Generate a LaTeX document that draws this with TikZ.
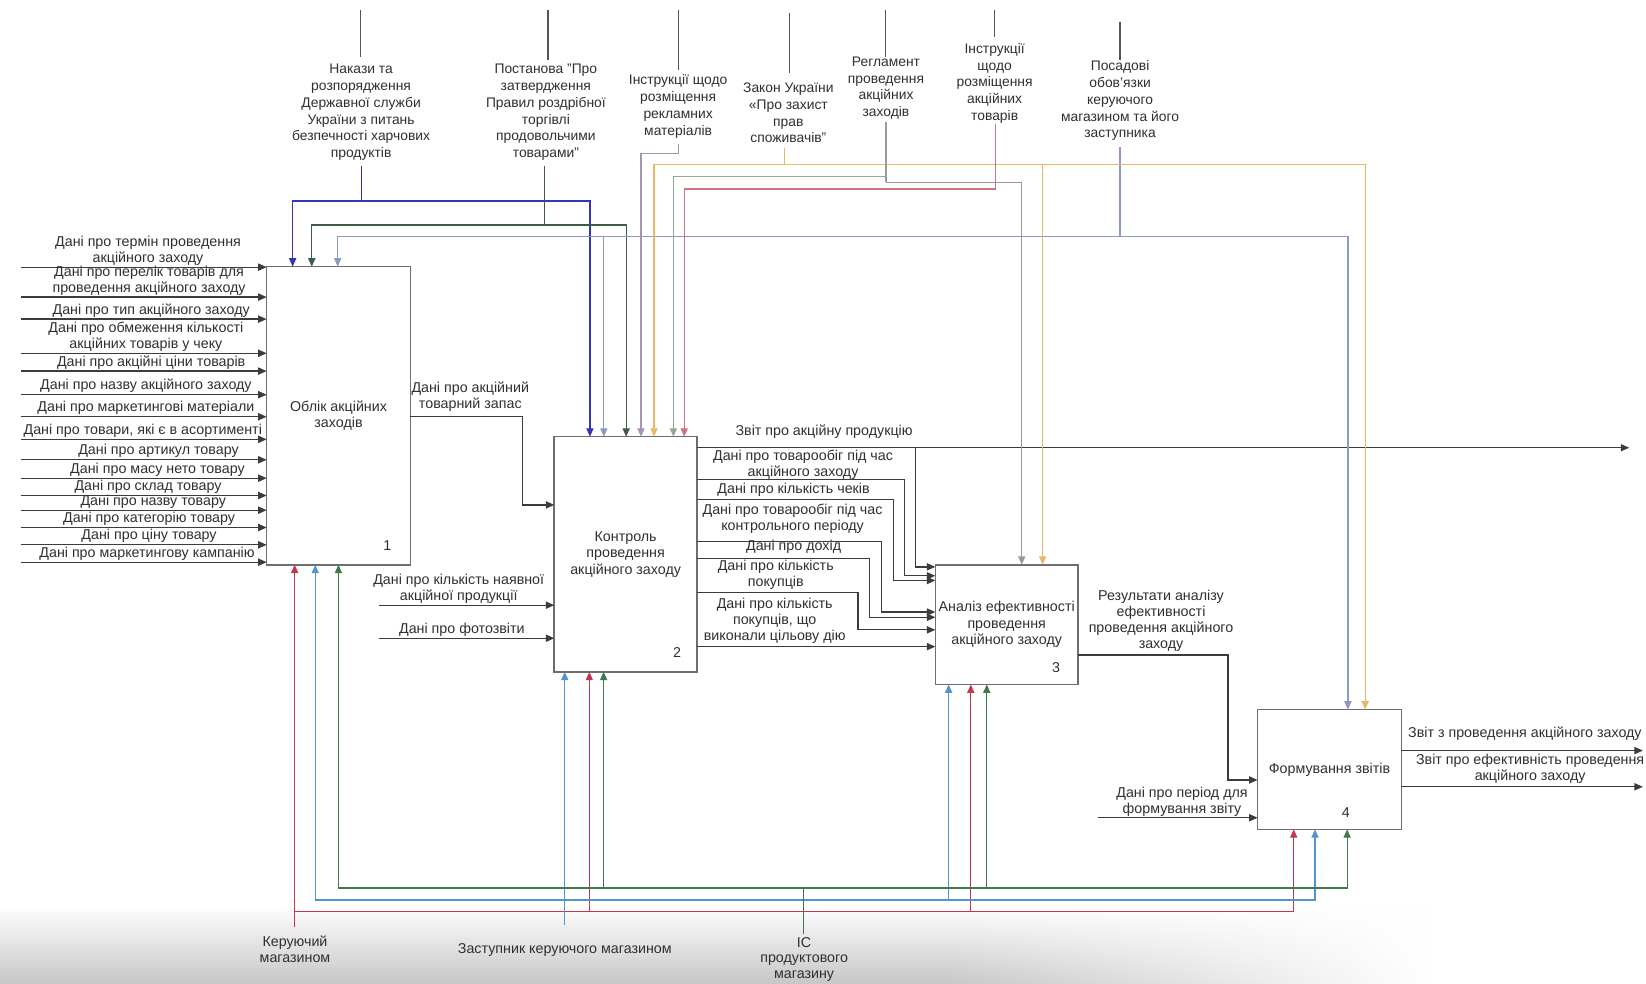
\documentclass[tikz,border=0pt]{standalone}
\usepackage{fontspec}
\setmainfont{Liberation Sans}
\usetikzlibrary{arrows.meta,fadings}

\definecolor{ink}{HTML}{303030}
\definecolor{wirec}{HTML}{3C3C3C}
\definecolor{framec}{HTML}{6E6E6E}
\definecolor{topc}{HTML}{555555}
% control colours
\definecolor{cBlue}{HTML}{3535B4}
\definecolor{cDkGreen}{HTML}{3F5B45}
\definecolor{cSteel}{HTML}{8A9AC0}
\definecolor{cLilac}{HTML}{A096B0}
\definecolor{cAmber}{HTML}{E6B868}
\definecolor{cSage}{HTML}{96A696}
\definecolor{cGray}{HTML}{9A9A9A}
\definecolor{cRose}{HTML}{CF7282}
% mechanism colours
\definecolor{mRed}{HTML}{C2374F}
\definecolor{mBlue}{HTML}{5294CE}
\definecolor{mGreen}{HTML}{3E7A4A}

\tikzfading[name=fadeoutright, left color=transparent!0, right color=transparent!100]

\tikzset{
  proc/.style={draw=framec, line width=0.75pt, anchor=north west, outer sep=0pt,
    inner sep=1pt, align=center, font=\fontsize{6.8}{7.8}\selectfont, text=ink},
  num/.style={font=\fontsize{6.8}{7.8}\selectfont, text=ink, inner sep=0pt},
  lab/.style={font=\fontsize{6.8}{7.6}\selectfont, text=ink, align=center, inner sep=0pt},
  toplab/.style={font=\fontsize{6.6}{8}\selectfont, text=ink, align=center, inner sep=0pt},
  wire/.style={draw=wirec, line width=0.6pt},
  flow/.style={wire, -{Triangle[length=4pt,width=3.4pt]}},
  cwire/.style={line width=0.6pt, draw=#1},
  cflow/.style={cwire=#1, -{Triangle[length=4pt,width=3.4pt]}},
  topwire/.style={draw=topc, line width=0.6pt},
}

\begin{document}
\begin{tikzpicture}[x=0.5pt,y=-0.5pt]
\useasboundingbox (0,0) rectangle (1568,937);
\fill[white] (0,0) rectangle (1568,937);

% grey haze along the bottom edge
\shade[top color=white, bottom color=black!22] (0,862) rectangle (900,937);
\shade[top color=white, bottom color=black!22, path fading=fadeoutright] (900,862) rectangle (1360,937);

% ---------------- activity boxes ----------------
\node[proc, minimum width=68.5pt, minimum height=142pt] (b1) at (254,254) {Облік акційних\\заходів};
\node[proc, minimum width=68pt, minimum height=112pt] (b2) at (528,416) {Контроль\\проведення\\акційного заходу};
\node[proc, minimum width=68pt, minimum height=57pt] (b3) at (891,538) {Аналіз ефективності\\проведення\\акційного заходу};
\node[proc, minimum width=68.5pt, minimum height=57pt] (b4) at (1198,676) {Формування звітів};

\node[num] (n1) at (369,520) {1};
\node[num] (n2) at (645,622) {2};
\node[num] (n3) at (1006,636) {3};
\node[num] (n4) at (1282,774) {4};

% ---------------- inputs of box 1 ----------------
\coordinate (i1) at (20,254.5);
\coordinate (i2) at (20,283);
\coordinate (i3) at (20,304);
\coordinate (i4) at (20,336.5);
\coordinate (i5) at (20,353.5);
\coordinate (i6) at (20,376);
\coordinate (i7) at (20,397);
\coordinate (i8) at (20,418.5);
\coordinate (i9) at (20,438);
\coordinate (i10) at (20,455.5);
\coordinate (i11) at (20,472);
\coordinate (i12) at (20,486);
\coordinate (i13) at (20,502.5);
\coordinate (i14) at (20,519);
\coordinate (i15) at (20,535.5);
\foreach \k in {1,...,15} {\draw[flow] (i\k) -- (i\k -| b1.west);}

\node[lab, anchor=south] (l1) at (141,253) {Дані про термін проведення\\акційного заходу};
\node[lab, anchor=south] (l2) at (142,281.5) {Дані про перелік товарів для\\проведення акційного заходу};
\node[lab, anchor=south] (l3) at (144,302.5) {Дані про тип акційного заходу};
\node[lab, anchor=south] (l4) at (139,335) {Дані про обмеження кількості\\акційних товарів у чеку};
\node[lab, anchor=south] (l5) at (144,352) {Дані про акційні ціни товарів};
\node[lab, anchor=south] (l6) at (139,374.5) {Дані про назву акційного заходу};
\node[lab, anchor=south] (l7) at (139,395.5) {Дані про маркетингові матеріали};
\node[lab, anchor=south] (l8) at (136,417) {Дані про товари, які є в асортименті};
\node[lab, anchor=south] (l9) at (151,436.5) {Дані про артикул товару};
\node[lab, anchor=south] (l10) at (150,454) {Дані про масу нето товару};
\node[lab, anchor=south] (l11) at (141,470.5) {Дані про склад товару};
\node[lab, anchor=south] (l12) at (146,484.5) {Дані про назву товару};
\node[lab, anchor=south] (l13) at (142,501) {Дані про категорію товару};
\node[lab, anchor=south] (l14) at (142,517.5) {Дані про ціну товару};
\node[lab, anchor=south] (l15) at (140,534) {Дані про маркетингову кампанію};

% ---------------- box 1 -> box 2 ----------------
\coordinate (o1k) at (498,397);
\coordinate (o1e) at (498,481);
\draw[flow] (o1k -| b1.east) -- (o1k) -- (o1e) -- (o1e -| b2.west);
\node[lab] (lo1) at (448,378) {Дані про акційний\\товарний запас};

% ---------------- inputs of box 2 ----------------
\coordinate (i16) at (361,576.5);
\coordinate (i17) at (361,608);
\draw[flow] (i16) -- (i16 -| b2.west);
\draw[flow] (i17) -- (i17 -| b2.west);
\node[lab, anchor=south] (l16) at (437,575) {Дані про кількість наявної\\акційної продукції};
\node[lab, anchor=south] (l17) at (440,606.5) {Дані про фотозвіти};

% ---------------- outputs of box 2 ----------------
\coordinate (zv) at (1552,426.5);
\coordinate (zvk) at (872.4,426.5);
\coordinate (zve) at (872.4,540);
\draw[flow] (zv -| b2.east) -- (zv);
\draw[flow] (zvk) -- (zve) -- (zve -| b3.west);
\node[lab] (lzv) at (785,411) {Звіт про акційну продукцію};

\coordinate (k2) at (861.5,457);   \coordinate (k2e) at (861.5,548.5);
\coordinate (k3) at (850.9,476);   \coordinate (k3e) at (850.9,553);
\coordinate (k4) at (840,515.5);   \coordinate (k4e) at (840,583);
\coordinate (k5) at (828.5,532);   \coordinate (k5e) at (828.5,588);
\coordinate (k6) at (817.3,564.5); \coordinate (k6e) at (817.3,600);
\coordinate (k7) at (700,616);
\foreach \k in {2,...,6} {\draw[flow] (k\k -| b2.east) -- (k\k) -- (k\k e) -- (k\k e -| b3.west);}
\draw[flow] (k7 -| b2.east) -- (k7 -| b3.west);

\node[lab] (lk2) at (765,443) {Дані про товарообіг під час\\акційного заходу};
\node[lab] (lk3) at (756,467) {Дані про кількість чеків};
\node[lab] (lk4) at (755,494) {Дані про товарообіг під час\\контрольного періоду};
\node[lab] (lk5) at (756,521) {Дані про дохід};
\node[lab] (lk6) at (739,548) {Дані про кількість\\покупців};
\node[lab] (lk7) at (738,591) {Дані про кількість\\покупців, що\\виконали цільову дію};

% ---------------- box 3 -> box 4 ----------------
\coordinate (r1) at (1169.7,624);
\coordinate (r2) at (1169.7,743);
\draw[flow] (r1 -| b3.east) -- (r1) -- (r2) -- (r2 -| b4.west);
\node[lab] (lr) at (1106,591) {Результати аналізу\\ефективності\\проведення акційного\\заходу};

\coordinate (p1) at (1046,779);
\draw[flow] (p1) -- (p1 -| b4.west);
\node[lab, anchor=south] (lp) at (1126,778) {Дані про період для\\формування звіту};

% ---------------- outputs of box 4 ----------------
\coordinate (z1) at (1565,715);
\coordinate (z2) at (1565,749.5);
\draw[flow] (z1 -| b4.east) -- (z1);
\draw[flow] (z2 -| b4.east) -- (z2);
\node[lab, anchor=west] (lz1) at (1341,699) {Звіт з проведення акційного заходу};
\node[lab] (lz2) at (1457.6,732) {Звіт про ефективність проведення\\акційного заходу};

% ---------------- controls ----------------
\node[toplab] (t1) at (344,107) {Накази та\\розпорядження\\Державної служби\\України з питань\\безпечності харчових\\продуктів};
\node[toplab] (t2) at (520,107) {Постанова "Про\\затвердження\\Правил роздрібної\\торгівлі\\продовольчими\\товарами"};
\node[toplab] (t3) at (646,101.5) {Інструкції щодо\\розміщення\\рекламних\\матеріалів};
\node[toplab] (t4) at (751,107.5) {Закон України\\«Про захист\\прав\\споживачів"};
\node[toplab] (t5) at (844,84) {Регламент\\проведення\\акційних\\заходів};
\node[toplab] (t6) at (947.5,79.4) {Інструкції\\щодо\\розміщення\\акційних\\товарів};
\node[toplab] (t7) at (1067,96) {Посадові\\обов'язки\\керуючого\\магазином та його\\заступника};

% stubs above the control labels
\coordinate (u1) at (343.6,9.5);  \coordinate (u1e) at (343.6,54);
\coordinate (u2) at (522,9.5);    \coordinate (u2e) at (522,57);
\coordinate (u3) at (646.5,9.5);  \coordinate (u3e) at (646.5,66.7);
\coordinate (u4) at (752,12.7);   \coordinate (u4e) at (752,70);
\coordinate (u5) at (843.8,9.5);  \coordinate (u5e) at (843.8,54);
\coordinate (u6) at (947.2,9.5);  \coordinate (u6e) at (947.2,35);
\coordinate (u7) at (1067,20.6);  \coordinate (u7e) at (1067,57);
\foreach \k in {1,...,7} {\draw[topwire] (u\k) -- (u\k e);}

% Накази (blue)
\coordinate (s1) at (344.5,158);
\coordinate (j1) at (344.5,191.5);
\coordinate (x1a) at (278.8,191.5);
\coordinate (x1b) at (562,191.5);
\draw[cwire=cBlue] (s1) -- (j1);
\draw[cflow=cBlue] (j1) -- (x1a) -- (x1a |- b1.north);
\draw[cflow=cBlue] (j1) -- (x1b) -- (x1b |- b2.north);

% Постанова (dark green)
\coordinate (s2) at (518.5,158);
\coordinate (j2) at (518.5,214.4);
\coordinate (x2a) at (297,214.4);
\coordinate (x2b) at (596.5,214.4);
\draw[cwire=cDkGreen] (s2) -- (j2);
\draw[cflow=cDkGreen] (j2) -- (x2a) -- (x2a |- b1.north);
\draw[cflow=cDkGreen] (j2) -- (x2b) -- (x2b |- b2.north);

% Посадові обов'язки (steel)
\coordinate (s7) at (1067,140);
\coordinate (j7) at (1067,225.5);
\coordinate (x7a) at (321.7,225.5);
\coordinate (x7b) at (575.2,225.5);
\coordinate (x7c) at (1284,225.5);
\draw[cwire=cSteel] (s7) -- (j7);
\draw[cflow=cSteel] (j7) -- (x7a) -- (x7a |- b1.north);
\draw[cflow=cSteel] (x7b) -- (x7b |- b2.north);
\draw[cflow=cSteel] (j7) -- (x7c) -- (x7c |- b4.north);

% Інструкції щодо розміщення рекламних матеріалів (lilac)
\coordinate (s3) at (646.5,137);
\coordinate (j3) at (646.5,146);
\coordinate (x3) at (610.6,146);
\draw[cflow=cLilac] (s3) -- (j3) -- (x3) -- (x3 |- b2.north);

% Закон України (amber)
\coordinate (s4) at (747,141);
\coordinate (j4) at (747,156.5);
\coordinate (x4a) at (623,156.5);
\coordinate (x4b) at (993.3,156.5);
\coordinate (x4c) at (1300.5,156.5);
\draw[cwire=cAmber] (s4) -- (j4);
\draw[cflow=cAmber] (j4) -- (x4a) -- (x4a |- b2.north);
\draw[cflow=cAmber] (j4) -- (x4c) -- (x4c |- b4.north);
\draw[cflow=cAmber] (x4b) -- (x4b |- b3.north);

% Регламент проведення акційних заходів (sage / grey)
\coordinate (s5) at (844,116);
\coordinate (j5a) at (844,168.3);
\coordinate (j5b) at (844,173.7);
\coordinate (x5a) at (641.5,168.3);
\coordinate (x5b) at (973.3,173.7);
\draw[cwire=cGray] (s5) -- (j5b);
\draw[cflow=cSage] (j5a) -- (x5a) -- (x5a |- b2.north);
\draw[cflow=cGray] (j5b) -- (x5b) -- (x5b |- b3.north);

% Інструкції щодо розміщення акційних товарів (rose)
\coordinate (s6) at (948,118);
\coordinate (j6) at (948,180);
\coordinate (x6) at (651.8,180);
\draw[cflow=cRose] (s6) -- (j6) -- (x6) -- (x6 |- b2.north);

% ---------------- mechanisms ----------------
% Керуючий магазином (red)
\coordinate (mR) at (280.7,883);
\coordinate (mRh) at (280.7,868.5);
\coordinate (mR2) at (561.4,868.5);
\coordinate (mR3) at (924.8,868.5);
\coordinate (mRe) at (1232.4,868.5);
\draw[cflow=mRed] (mR) -- (mR |- b1.south);
\draw[cflow=mRed] (mRh) -- (mRe) -- (mRe |- b4.south);
\draw[cflow=mRed] (mR2) -- (mR2 |- b2.south);
\draw[cflow=mRed] (mR3) -- (mR3 |- b3.south);

% Заступник керуючого магазином (blue)
\coordinate (mB) at (538,881);
\coordinate (mB1) at (300.3,857.4);
\coordinate (mB3) at (903.7,857.4);
\coordinate (mBe) at (1252.7,857.4);
\draw[cflow=mBlue] (mB) -- (mB |- b2.south);
\draw[cflow=mBlue] (mB1) -- (mB1 |- b1.south);
\draw[cflow=mBlue] (mB1) -- (mBe) -- (mBe |- b4.south);
\draw[cflow=mBlue] (mB3) -- (mB3 |- b3.south);

% ІС продуктового магазину (green)
\coordinate (mG) at (765.6,890);
\coordinate (mGj) at (765.6,846);
\coordinate (mG1) at (322.4,846);
\coordinate (mG2) at (575,846);
\coordinate (mG3) at (940,846);
\coordinate (mGe) at (1283.3,846);
\draw[cwire=mGreen] (mG) -- (mGj);
\draw[cflow=mGreen] (mG1) -- (mG1 |- b1.south);
\draw[cflow=mGreen] (mG1) -- (mGe) -- (mGe |- b4.south);
\draw[cflow=mGreen] (mG2) -- (mG2 |- b2.south);
\draw[cflow=mGreen] (mG3) -- (mG3 |- b3.south);

\node[lab] (mRl) at (281,904) {Керуючий\\магазином};
\node[lab] (mBl) at (538,905) {Заступник керуючого магазином};
\node[lab] (mGl) at (766,914) {ІС\\продуктового\\магазину};
\end{tikzpicture}
\end{document}
